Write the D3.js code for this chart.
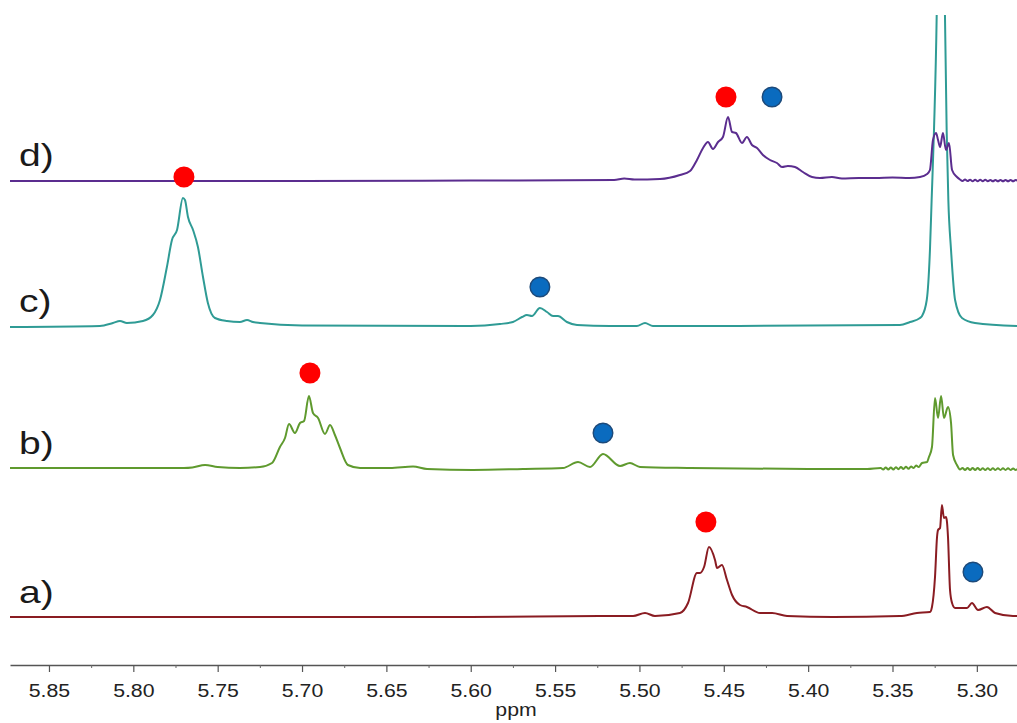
<!DOCTYPE html>
<html>
<head>
<meta charset="utf-8">
<script src="https://cdn.jsdelivr.net/npm/d3@7"></script>
<style>
  html, body { margin: 0; padding: 0; background: #fff; }
  svg { display: block; }
</style>
</head>
<body>
<svg id="chart" width="1017" height="723"></svg>
<script>
// 1H NMR traces, olefinic region: [chemical shift (ppm), intensity above the trace's own baseline]
const spectrumA = [
  [5.8731, 0], [5.6000, 0], [5.5234, 1], [5.5038, 1], [5.4967, 4], [5.4908, 1], [5.4760, 4],
  [5.4712, 14], [5.4659, 44], [5.4641, 44], [5.4617, 50], [5.4588, 70], [5.4552, 57], [5.4540, 49],
  [5.4511, 52], [5.4481, 37], [5.4451, 22], [5.4404, 12], [5.4363, 10], [5.4285, 4], [5.4214, 4],
  [5.4125, 1], [5.3853, 0], [5.3456, 1], [5.3355, 4], [5.3278, 5], [5.3266, 10], [5.3248, 40],
  [5.3236, 80], [5.3230, 87], [5.3218, 89], [5.3207, 112], [5.3195, 99], [5.3183, 100], [5.3177, 95],
  [5.3171, 80], [5.3159, 27], [5.3147, 14], [5.3129, 9], [5.3058, 9], [5.3029, 14], [5.2993, 7],
  [5.2940, 10], [5.2892, 4], [5.2786, 1], [5.2762, 1]
];

const spectrumB = [
  [5.8731, 0], [5.7700, 0], [5.7650, 0.5], [5.7575, 3], [5.7500, 1], [5.7368, 0], [5.7249, 1],
  [5.7178, 5], [5.7131, 21], [5.7101, 30], [5.7077, 44], [5.7042, 35], [5.7012, 45], [5.6988, 47],
  [5.6959, 72], [5.6935, 55], [5.6905, 50], [5.6864, 34], [5.6834, 43], [5.6805, 33], [5.6775, 20],
  [5.6728, 3], [5.6656, 0], [5.6479, 0], [5.6342, 1.5], [5.6259, -1], [5.5987, -2], [5.5690, -1],
  [5.5453, 0], [5.5364, 6], [5.5293, 1], [5.5216, 14], [5.5115, 2], [5.5056, 5], [5.4997, 1],
  [5.4700, 0], [5.4000, -1], [5.3650, -1],
  [5.3570, 0], [5.3555, -1.5], [5.3540, 0.5], [5.3525, -1.5], [5.3510, 0.5], [5.3495, -1.5],
  [5.3480, 0.8], [5.3465, -1.2], [5.3450, 1], [5.3435, -1], [5.3420, 1.2], [5.3405, -0.8],
  [5.3390, 1.5], [5.3375, 0], [5.3360, 2.5], [5.3345, 1],
  [5.3325, 5], [5.3295, 6], [5.3284, 11], [5.3266, 21], [5.3248, 70], [5.3230, 50], [5.3212, 72],
  [5.3195, 50], [5.3171, 61], [5.3153, 45], [5.3141, 13], [5.3118, 3],
  [5.3100, -1.5], [5.3085, 0], [5.3070, -2], [5.3055, 0], [5.3040, -2], [5.3025, 0], [5.3010, -2],
  [5.2995, 0], [5.2980, -2], [5.2965, -0.2], [5.2950, -2], [5.2935, -0.2], [5.2920, -2], [5.2905, -0.2],
  [5.2890, -2], [5.2875, -0.3], [5.2860, -2], [5.2845, -0.3], [5.2830, -2], [5.2815, -0.3], [5.2800, -2],
  [5.2785, -0.4], [5.2770, -2], [5.2755, -0.5]
];

const spectrumC = [
  [5.8731, -1], [5.8198, 0], [5.8121, 3], [5.8079, 5], [5.8038, 3], [5.7943, 5], [5.7884, 11],
  [5.7842, 26], [5.7801, 59], [5.7771, 86], [5.7741, 96], [5.7706, 128], [5.7694, 126], [5.7676, 109],
  [5.7646, 96], [5.7617, 79], [5.7587, 49], [5.7558, 23], [5.7516, 8], [5.7445, 5], [5.7368, 4],
  [5.7326, 6], [5.7291, 4], [5.7249, 3], [5.7000, 0.5], [5.6000, 0], [5.5827, 2], [5.5750, 4],
  [5.5696, 9], [5.5667, 11], [5.5637, 10], [5.5590, 18], [5.5548, 14], [5.5512, 10], [5.5483, 10],
  [5.5430, 4], [5.5370, 1], [5.5175, 0], [5.5015, 0], [5.4967, 3], [5.4920, 0], [5.4641, 0],
  [5.3456, 1], [5.3396, 4], [5.3337, 8], [5.3325, 10], [5.3297, 26], [5.3278, 76], [5.3268, 126],
  [5.3254, 196], [5.3238, 311], [5.3214, 700], [5.3189, 311], [5.3179, 196], [5.3169, 126],
  [5.3153, 76], [5.3129, 26], [5.3088, 8], [5.3011, 3], [5.2762, 0]
];

const spectrumD = [
  [5.8731, -1], [5.7000, -1], [5.6000, -0.5], [5.5150, 0], [5.5090, 1.5], [5.5030, 0.5],
  [5.4878, 1], [5.4760, 5], [5.4700, 9], [5.4659, 20], [5.4623, 32], [5.4594, 38], [5.4564, 31],
  [5.4534, 38], [5.4505, 43], [5.4475, 63], [5.4451, 48], [5.4428, 47], [5.4392, 37], [5.4363, 43],
  [5.4333, 35], [5.4303, 32], [5.4268, 25], [5.4226, 20], [5.4185, 17], [5.4155, 13], [5.4120, 14],
  [5.4078, 13], [5.4031, 8], [5.3977, 3], [5.3930, 2], [5.3859, 3], [5.3800, 1.5], [5.3700, 2],
  [5.3600, 2], [5.3500, 2.5], [5.3400, 2], [5.3337, 3], [5.3295, 6], [5.3278, 10], [5.3260, 40],
  [5.3242, 47], [5.3230, 40], [5.3218, 33], [5.3201, 47], [5.3183, 30], [5.3165, 37], [5.3147, 10],
  [5.3118, 3],
  [5.3100, 0.5], [5.3085, -1], [5.3070, 0.5], [5.3055, -1], [5.3040, 0.3], [5.3025, -1.2],
  [5.3010, 0.3], [5.2995, -1.2], [5.2980, 0.2], [5.2965, -1.2], [5.2950, 0.2], [5.2935, -1.2],
  [5.2920, 0], [5.2905, -1.3], [5.2890, 0], [5.2875, -1.3], [5.2860, 0], [5.2845, -1.3],
  [5.2830, 0], [5.2815, -1.3], [5.2800, 0], [5.2785, -1.3], [5.2770, 0], [5.2755, -1.2]
];

const traceNames = ["a)", "b)", "c)", "d)"];
const traceColors = ["#8a1c22", "#5f9a2e", "#2f9b95", "#5b2d8f"];
const traceOffsets = [48, 197, 339, 485];   // vertical stacking, intensity units

// markers: [trace index, ppm, height above that trace's baseline]
const redMarks = [[0, 5.4606, 95], [1, 5.6953, 95], [2, 5.7700, 149], [3, 5.4487, 83]];
const blueMarks = [[0, 5.3023, 45], [1, 5.5216, 35], [2, 5.5590, 39], [3, 5.4214, 83]];

const majorTicks = [5.85, 5.80, 5.75, 5.70, 5.65, 5.60, 5.55, 5.50, 5.45, 5.40, 5.35, 5.30];
const minorTicks = [5.825, 5.775, 5.725, 5.675, 5.625, 5.575, 5.525, 5.475, 5.425, 5.375, 5.325];
const axisTitle = "ppm";

const spectra = [spectrumA, spectrumB, spectrumC, spectrumD];

const svg = d3.select("#chart");
const x = d3.scaleLinear().domain([5.8731, 5.2762]).range([10, 1017]);
const y = d3.scaleLinear().domain([0, 650]).range([665, 15]);
const stretch = "scale(1.15,1)";

svg.append("defs").append("clipPath").attr("id", "plot-clip")
  .append("rect").attr("x", 0).attr("y", y(650)).attr("width", 1017).attr("height", y(0) - y(650));

const plot = svg.append("g").attr("clip-path", "url(#plot-clip)");

spectra.forEach((data, i) => {
  const line = d3.line()
    .x(d => x(d[0]))
    .y(d => y(traceOffsets[i] + d[1]))
    .curve(d3.curveMonotoneX);
  plot.append("path")
    .datum([...data].sort((p, q) => q[0] - p[0]))
    .attr("d", line)
    .attr("fill", "none")
    .attr("stroke", traceColors[i])
    .attr("stroke-width", 2)
    .attr("stroke-linejoin", "round");
});

// trace labels
traceNames.forEach((name, i) => {
  svg.append("text")
    .attr("transform", `translate(19,${y(traceOffsets[i]) - 14}) scale(1.22,1)`)
    .attr("font-family", "Liberation Sans, Arial, sans-serif")
    .attr("font-size", 32)
    .attr("fill", "#1a1a1a")
    .text(name);
});

// assignment markers
svg.append("g").selectAll("circle").data(redMarks).join("circle")
  .attr("cx", d => x(d[1]))
  .attr("cy", d => y(traceOffsets[d[0]] + d[2]))
  .attr("r", 10.5)
  .attr("fill", "#ff0000");

svg.append("g").selectAll("circle").data(blueMarks).join("circle")
  .attr("cx", d => x(d[1]))
  .attr("cy", d => y(traceOffsets[d[0]] + d[2]))
  .attr("r", 9.8)
  .attr("fill", "#0a6bbf")
  .attr("stroke", "#1d4a7a")
  .attr("stroke-width", 1.4);

// chemical shift axis
const axisG = svg.append("g").attr("transform", `translate(0,${y(0)})`);
axisG.call(d3.axisBottom(x).tickValues(majorTicks).tickSize(7).tickSizeOuter(0).tickFormat(d3.format(".2f")));
axisG.select(".domain").attr("stroke", "#555").attr("stroke-width", 1.3);
axisG.selectAll(".tick line").attr("stroke", "#555").attr("stroke-width", 1.2);
axisG.selectAll(".tick text")
  .attr("y", 32).attr("dy", 0)
  .attr("transform", stretch)
  .attr("font-family", "Liberation Sans, Arial, sans-serif")
  .attr("font-size", 18.5)
  .attr("fill", "#222");

const minorG = svg.append("g").attr("transform", `translate(0,${y(0)})`);
minorG.call(d3.axisBottom(x).tickValues(minorTicks).tickSize(3).tickSizeOuter(0).tickFormat(""));
minorG.select(".domain").remove();
minorG.selectAll(".tick line").attr("stroke", "#666").attr("stroke-width", 1);

svg.append("text")
  .attr("transform", `translate(516,716) ${stretch}`)
  .attr("text-anchor", "middle")
  .attr("font-family", "Liberation Sans, Arial, sans-serif")
  .attr("font-size", 18.5)
  .attr("fill", "#222")
  .text(axisTitle);
</script>
</body>
</html>
